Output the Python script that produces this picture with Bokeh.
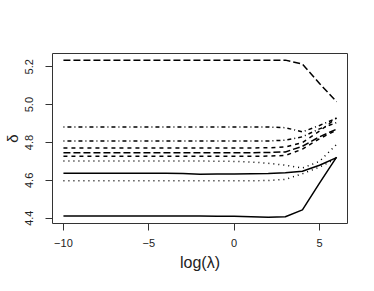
from bokeh.plotting import figure
from bokeh.models import Range1d, FixedTicker, PrintfTickFormatter
from bokeh.embed import file_html
from bokeh.resources import INLINE

# log(lambda) grid
log_lambda = [-10, -9, -8, -7, -6, -5, -4, -3, -2, -1, 0, 1, 2, 3, 4, 5, 6]

# ridge-trace coefficient paths
coef_1 = [4.411, 4.411, 4.411, 4.411, 4.411, 4.411, 4.411, 4.411, 4.411, 4.410, 4.410, 4.408, 4.405, 4.408, 4.444, 4.585, 4.723]
coef_2 = [4.727, 4.727, 4.727, 4.727, 4.727, 4.727, 4.727, 4.727, 4.727, 4.727, 4.727, 4.727, 4.728, 4.731, 4.765, 4.820, 4.865]
coef_3 = [4.598, 4.598, 4.598, 4.598, 4.598, 4.598, 4.598, 4.598, 4.598, 4.598, 4.598, 4.598, 4.599, 4.605, 4.635, 4.670, 4.715]
coef_4 = [4.808, 4.808, 4.808, 4.808, 4.808, 4.808, 4.808, 4.808, 4.808, 4.808, 4.808, 4.808, 4.808, 4.812, 4.830, 4.872, 4.905]
coef_5 = [5.235, 5.235, 5.235, 5.235, 5.235, 5.235, 5.235, 5.235, 5.235, 5.235, 5.235, 5.235, 5.235, 5.235, 5.214, 5.112, 5.015]
coef_6 = [4.638, 4.638, 4.638, 4.638, 4.638, 4.638, 4.638, 4.636, 4.632, 4.633, 4.634, 4.635, 4.636, 4.640, 4.648, 4.680, 4.720]
coef_7 = [4.771, 4.771, 4.771, 4.771, 4.771, 4.771, 4.771, 4.771, 4.771, 4.771, 4.771, 4.771, 4.772, 4.776, 4.800, 4.860, 4.930]
coef_8 = [4.702, 4.702, 4.702, 4.702, 4.702, 4.702, 4.702, 4.702, 4.702, 4.701, 4.700, 4.697, 4.690, 4.680, 4.665, 4.700, 4.790]
coef_9 = [4.882, 4.882, 4.882, 4.882, 4.882, 4.882, 4.882, 4.882, 4.882, 4.882, 4.882, 4.882, 4.882, 4.878, 4.856, 4.890, 4.928]
coef_10 = [4.746, 4.746, 4.746, 4.746, 4.746, 4.746, 4.746, 4.746, 4.746, 4.746, 4.746, 4.746, 4.747, 4.750, 4.780, 4.830, 4.870]

series = [coef_1, coef_2, coef_3, coef_4, coef_5, coef_6, coef_7, coef_8, coef_9, coef_10]
# R lty 1:5 cycle: solid, dashed, dotted, dotdash, longdash
dashes = ["solid", "4 4", "1 4", "1 3 4 3", "7 3"]

x_ticks = [-10, -5, 0, 5]
y_ticks = [4.4, 4.6, 4.8, 5.0, 5.2]

p = figure(width=366, height=283, output_backend="svg", toolbar_location=None,
           x_range=Range1d(-10.64, 6.64), y_range=Range1d(4.372, 5.270),
           min_border_left=52, min_border_right=19, min_border_top=53, min_border_bottom=60)

for i, ys in enumerate(series):
    p.line(log_lambda, ys, line_color="black", line_width=1.5,
           line_dash=dashes[i % 5])

p.grid.visible = False
p.outline_line_color = "#333333"
p.outline_line_width = 1
p.background_fill_color = "white"
p.border_fill_color = "white"

font = "Liberation Sans"
for ax in (p.xaxis[0], p.yaxis[0]):
    ax.axis_line_color = None
    ax.major_tick_out = 7
    ax.major_tick_in = 0
    ax.major_tick_line_color = "#333333"
    ax.minor_tick_line_color = None
    ax.major_label_text_font = font
    ax.major_label_text_font_size = "11px"
    ax.major_label_text_color = "#222222"
    ax.axis_label_text_font = font
    ax.axis_label_text_font_style = "normal"
    ax.axis_label_text_color = "#222222"

p.xaxis[0].ticker = FixedTicker(ticks=x_ticks)
p.xaxis[0].major_label_overrides = {-10: "\u221210", -5: "\u22125", 0: "0", 5: "5"}
p.xaxis[0].axis_label = "log(\u03bb)"
p.xaxis[0].axis_label_text_font_size = "16px"
p.xaxis[0].axis_label_standoff = 4
p.xaxis[0].major_label_standoff = 8

p.yaxis[0].ticker = FixedTicker(ticks=y_ticks)
p.yaxis[0].formatter = PrintfTickFormatter(format="%.1f")
p.yaxis[0].major_label_orientation = "vertical"
p.yaxis[0].major_label_standoff = 12
p.yaxis[0].axis_label = "\u03b4"
p.yaxis[0].axis_label_text_font_size = "15px"
p.yaxis[0].axis_label_standoff = 2

open("out.html", "w").write(file_html(p, INLINE))
